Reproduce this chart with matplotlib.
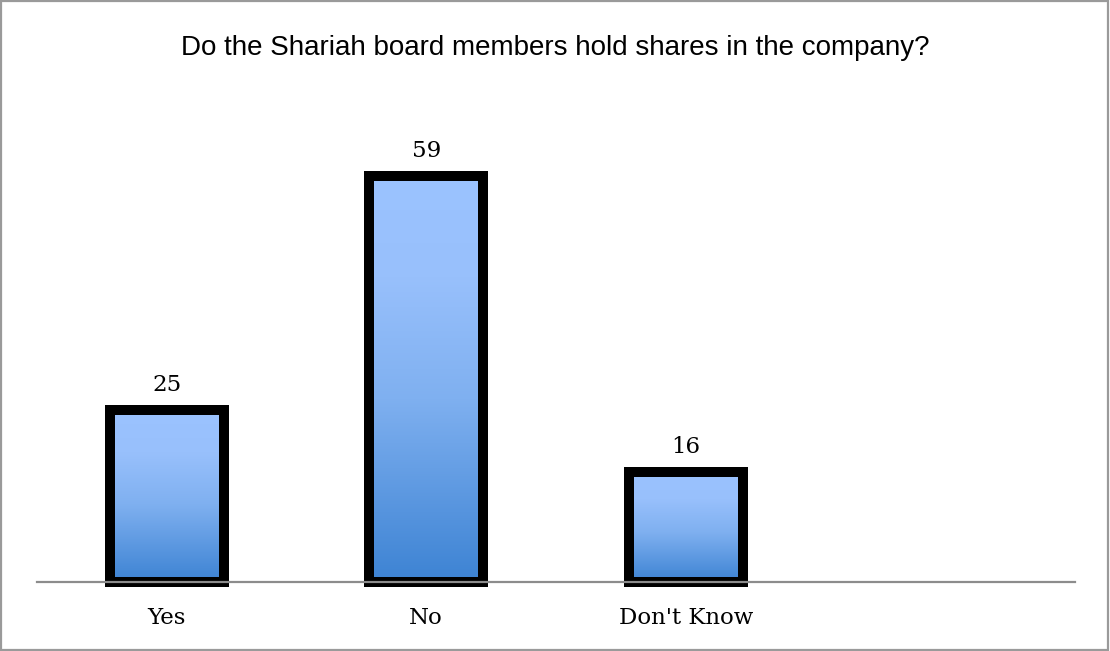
import numpy as np
import matplotlib.pyplot as plt
from matplotlib.colors import LinearSegmentedColormap
from matplotlib.patches import Rectangle

# Survey responses
categories = ["Yes", "No", "Don't Know"]
counts = [25, 59, 16]
title = "Do the Shariah board members hold shares in the company?"

fig = plt.figure(figsize=(11.1, 6.51), dpi=100)
ax = fig.add_axes([37 / 1110, 1 - 582 / 651, (1075 - 37) / 1110, (582 - 100) / 651])

# Light-to-dark blue fill, top to bottom
blues = LinearSegmentedColormap.from_list(
    "bar_blue", [(0.0, "#3d83d3"), (0.45, "#7fb0f0"), (0.75, "#98c0fc"), (1.0, "#9bc3ff")])
grad = np.linspace(0, 1, 256).reshape(-1, 1)

label_font = dict(fontsize=16.5, family="DejaVu Serif")

width = 0.44
x = np.arange(len(categories))
bars = ax.bar(x, counts, width=width, facecolor="none", edgecolor="black",
              linewidth=7.2, zorder=3, clip_on=False)
for rect, val in zip(bars, counts):
    x0 = rect.get_x()
    img = ax.imshow(grad, cmap=blues, origin="lower", aspect="auto",
                    extent=[x0, x0 + width, 0, val], zorder=2)
    clip = Rectangle((x0, 0), width, val, transform=ax.transData)
    img.set_clip_path(clip)
    ax.text(rect.get_x() + width / 2, val + 3.6, str(val), ha="center", va="center",
            **label_font)

ax.set_xlim(-0.5, 3.5)
ax.set_ylim(0, 70)
ax.set_xticks(x)
ax.set_xticklabels(categories, **label_font)
ax.tick_params(axis="x", length=0, pad=18)
ax.set_yticks([])
for side in ["top", "right", "left"]:
    ax.spines[side].set_visible(False)
ax.spines["bottom"].set_color("#8c8c8c")
ax.spines["bottom"].set_linewidth(1.6)
ax.spines["bottom"].set_zorder(4)

fig.text(0.5, 1 - 48 / 651, title, ha="center", va="center", fontsize=20,
         family="Liberation Sans")

# Chart border
fig.patches.append(Rectangle((0.001, 0.002), 0.997, 0.996, transform=fig.transFigure,
                             fill=False, edgecolor="#9a9a9a", linewidth=1.6))

fig.savefig("out.png", dpi=100)
